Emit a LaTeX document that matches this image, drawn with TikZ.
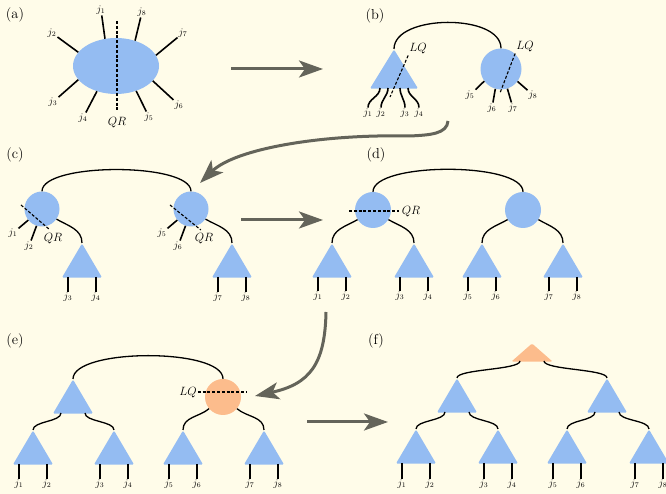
\documentclass[tikz,border=0pt]{standalone}
\usepackage{xcolor}
\usepackage{tikz}
\usetikzlibrary{positioning}
\usetikzlibrary{shapes.geometric}
\usetikzlibrary{calc}
\usetikzlibrary{arrows.meta}

\definecolor{paper}{RGB}{255,252,233}
\definecolor{qblue}{RGB}{148,188,242}
\definecolor{qorange}{RGB}{252,188,140}
\definecolor{flowgray}{RGB}{100,100,90}

\begin{document}
\begin{tikzpicture}[
    x=1pt, y=1pt,
    blob/.style={circle,fill=qblue,minimum size=36pt,inner sep=0pt},
    tri/.style={isosceles triangle,isosceles triangle stretches,shape border rotate=90,
        fill=qblue,minimum width=40pt,minimum height=34pt,inner sep=0pt,
        rounded corners=1.2pt,anchor=apex},
    jlab/.style={inner sep=1pt},
    cutlab/.style={font=\large,inner sep=1pt},
    panel/.style={font=\Large},
    bond/.style={line width=1.3pt},
    leg/.style={line width=1.6pt},
    cut/.style={line width=1.1pt,dash pattern=on 3pt off 1.8pt},
    flow/.style={line width=3pt,draw=flowgray,-{Stealth[length=24pt,width=17pt,inset=6pt]}}
    ]

    \fill[paper] (0,0) rectangle (666,494);
    \useasboundingbox (0,0) rectangle (666,494);

    % (a)
    \node[panel] (pa) at (15,479) {(a)};
    \node[ellipse,fill=qblue,minimum width=86pt,minimum height=56pt,inner sep=0pt] (blobA) at (116,428) {};
    \node[jlab] (ja1) at (101,484) {$j_1$};
    \node[jlab] (ja2) at (52,461) {$j_2$};
    \node[jlab] (ja3) at (53,392) {$j_3$};
    \node[jlab] (ja4) at (83,376) {$j_4$};
    \node[jlab] (ja5) at (149,377) {$j_5$};
    \node[jlab] (ja6) at (179,389) {$j_6$};
    \node[jlab] (ja7) at (183,461) {$j_7$};
    \node[jlab] (ja8) at (142,482) {$j_8$};
    \draw[leg] (ja1) -- (blobA.112);
    \draw[leg] (ja2) -- (blobA.160);
    \draw[leg] (ja3) -- (blobA.200);
    \draw[leg] (ja4) -- (blobA.233);
    \draw[leg] (ja5) -- (blobA.309);
    \draw[leg] (ja6) -- (blobA.338);
    \draw[leg] (ja7) -- (blobA.15);
    \draw[leg] (ja8) -- (blobA.53);
    \coordinate (cutA) at (117,473);
    \node[cutlab] (QRa) at (117,371) {$QR$};
    \draw[cut,shorten >=5pt] (cutA) -- (QRa.north);

    \coordinate (ab1) at (231,425);
    \coordinate (ab2) at (323,425);
    \draw[flow] (ab1) -- (ab2);

    % (b)
    \node[panel] (pb) at (375,478) {(b)};
    \node[tri,minimum width=48pt,minimum height=39pt] (triB) at (394,445) {};
    \node[blob,minimum size=41pt] (circB) at (501,425) {};
    \draw[bond] (triB.apex) .. controls +(0,35) and +(0,35) .. (circB.north);
    \node[jlab] (jb1) at (368,381) {$j_1$};
    \node[jlab] (jb2) at (381,381) {$j_2$};
    \node[jlab] (jb3) at (405,381) {$j_3$};
    \node[jlab] (jb4) at (419,381) {$j_4$};
    \draw[leg] ($(triB.apex)+(-14,-39)$) to[out=-90,in=90] (jb1);
    \draw[leg] ($(triB.apex)+(-6,-39)$) to[out=-90,in=90] (jb2);
    \draw[leg] ($(triB.apex)+(6,-39)$) to[out=-90,in=90] (jb3);
    \draw[leg] ($(triB.apex)+(14,-39)$) to[out=-90,in=90] (jb4);
    \node[jlab] (jb5) at (470,399) {$j_5$};
    \node[jlab] (jb6) at (492,386) {$j_6$};
    \node[jlab] (jb7) at (513,386) {$j_7$};
    \node[jlab] (jb8) at (533,399) {$j_8$};
    \draw[leg] (circB.216) -- (jb5);
    \draw[leg] (circB.254) -- (jb6);
    \draw[leg] (circB.288) -- (jb7);
    \draw[leg] (circB.323) -- (jb8);
    \node[cutlab] (LQb1) at (418,445) {$LQ$};
    \node[cutlab] (LQb2) at (525,447) {$LQ$};
    \coordinate (cb1) at (390,397);
    \coordinate (cb2) at (500,401);
    \draw[cut] (LQb1.south west) -- (cb1);
    \draw[cut] (LQb2.south west) -- (cb2);

    \coordinate (bc1) at (448,373);
    \coordinate (bc2) at (200,311);
    \draw[flow] (bc1) .. controls (447,360) and (430,359) .. (410,358)
        .. controls (320,360) and (235,345) .. (bc2);

    % (c)
    \node[panel] (pc) at (15,339) {(c)};
    \node[blob,minimum size=35pt] (circC1) at (42,285) {};
    \node[blob,minimum size=35pt] (circC2) at (191,285) {};
    \draw[bond] (circC1.north) .. controls +(0,29) and +(0,29) .. (circC2.north);
    \node[tri] (triC1) at (82,251) {};
    \node[tri] (triC2) at (232,251) {};
    \draw[bond] (circC1.-35) to[out=-30,in=90] (triC1.apex);
    \draw[bond] (circC2.-35) to[out=-30,in=90] (triC2.apex);
    \node[jlab] (jc1) at (13,261) {$j_1$};
    \node[jlab] (jc2) at (29,248) {$j_2$};
    \node[jlab] (jc5) at (162,261) {$j_5$};
    \node[jlab] (jc6) at (178,248) {$j_6$};
    \draw[leg] (circC1.219) -- (jc1);
    \draw[leg] (circC1.252) -- (jc2);
    \draw[leg] (circC2.219) -- (jc5);
    \draw[leg] (circC2.252) -- (jc6);
    \node[jlab] (jc3) at (68,197) {$j_3$};
    \node[jlab] (jc4) at (96,197) {$j_4$};
    \node[jlab] (jc7) at (218,197) {$j_7$};
    \node[jlab] (jc8) at (246,197) {$j_8$};
    \draw[leg] ($(triC1.apex)+(-14,-34)$) -- (jc3);
    \draw[leg] ($(triC1.apex)+(14,-34)$) -- (jc4);
    \draw[leg] ($(triC2.apex)+(-14,-34)$) -- (jc7);
    \draw[leg] ($(triC2.apex)+(14,-34)$) -- (jc8);
    \coordinate (cc1) at (21,289);
    \coordinate (cc2) at (170,289);
    \node[cutlab] (QRc1) at (53,255) {$QR$};
    \node[cutlab] (QRc2) at (204,255) {$QR$};
    \draw[cut,shorten >=4pt] (cc1) -- (QRc1.north);
    \draw[cut,shorten >=4pt] (cc2) -- (QRc2.north);

    \coordinate (cd1) at (241,274);
    \coordinate (cd2) at (323,274);
    \draw[flow] (cd1) -- (cd2);

    % (d)
    \node[panel] (pd) at (376,339) {(d)};
    \node[blob] (circD1) at (373,284) {};
    \node[blob] (circD2) at (523,284) {};
    \draw[bond] (circD1.north) .. controls +(0,30) and +(0,30) .. (circD2.north);
    \node[tri] (triD1) at (332,251) {};
    \node[tri] (triD2) at (414,251) {};
    \node[tri] (triD3) at (482,251) {};
    \node[tri] (triD4) at (563,251) {};
    \draw[bond] (circD1.-148) to[out=-150,in=90] (triD1.apex);
    \draw[bond] (circD1.-32) to[out=-30,in=90] (triD2.apex);
    \draw[bond] (circD2.-148) to[out=-150,in=90] (triD3.apex);
    \draw[bond] (circD2.-32) to[out=-30,in=90] (triD4.apex);
    \foreach \t/\a/\b in {1/1/2,2/3/4,3/5/6,4/7/8}{
        \node[jlab] (jd\a) at ($(triD\t.apex)+(-14,-53)$) {$j_{\a}$};
        \node[jlab] (jd\b) at ($(triD\t.apex)+(14,-53)$) {$j_{\b}$};
        \draw[leg] ($(triD\t.apex)+(-14,-34)$) -- (jd\a);
        \draw[leg] ($(triD\t.apex)+(14,-34)$) -- (jd\b);
    }
    \coordinate (cutD) at (349,283);
    \node[cutlab] (QRd) at (411,282) {$QR$};
    \draw[cut,shorten >=2pt] (cutD) -- (cutD -| QRd.west);

    \coordinate (de1) at (326,182);
    \coordinate (de2) at (255,98);
    \draw[flow] (de1) .. controls (325,130) and (310,110) .. (de2);

    % (e)
    \node[panel] (pe) at (15,153) {(e)};
    \node[tri] (triE) at (73,115) {};
    \node[blob,fill=qorange] (circE) at (223,97) {};
    \draw[bond] (triE.apex) .. controls +(0,31) and +(0,31) .. (circE.north);
    \node[tri] (triE1) at (33,64) {};
    \node[tri] (triE2) at (114,64) {};
    \node[tri] (triE3) at (183,64) {};
    \node[tri] (triE4) at (264,64) {};
    \draw[bond] ($(triE.apex)+(-12,-34)$) .. controls +(0,-9) and +(0,9) .. (triE1.apex);
    \draw[bond] ($(triE.apex)+(12,-34)$) .. controls +(0,-9) and +(0,9) .. (triE2.apex);
    \draw[bond] (circE.-140) to[out=-140,in=90] (triE3.apex);
    \draw[bond] (circE.-40) to[out=-40,in=90] (triE4.apex);
    \foreach \t/\a/\b in {1/1/2,2/3/4,3/5/6,4/7/8}{
        \node[jlab] (je\a) at ($(triE\t.apex)+(-14,-54)$) {$j_{\a}$};
        \node[jlab] (je\b) at ($(triE\t.apex)+(14,-54)$) {$j_{\b}$};
        \draw[leg] ($(triE\t.apex)+(-14,-34)$) -- (je\a);
        \draw[leg] ($(triE\t.apex)+(14,-34)$) -- (je\b);
    }
    \coordinate (cutE) at (247,102);
    \node[cutlab] (LQe) at (188,101) {$LQ$};
    \draw[cut] (cutE -| LQe.east) -- (cutE);

    \coordinate (ef1) at (307,72);
    \coordinate (ef2) at (388,72);
    \draw[flow] (ef1) -- (ef2);

    % (f)
    \node[panel] (pf) at (376,153) {(f)};
    \node[tri,fill=qorange,minimum width=41pt,minimum height=18pt] (triF) at (532,151) {};
    \node[tri] (triFL) at (457,116) {};
    \node[tri] (triFR) at (607,116) {};
    \draw[bond] ($(triF.apex)+(-12,-18)$) .. controls +(0,-9) and +(0,9) .. (triFL.apex);
    \draw[bond] ($(triF.apex)+(12,-18)$) .. controls +(0,-9) and +(0,9) .. (triFR.apex);
    \node[tri] (triF1) at (416,65) {};
    \node[tri] (triF2) at (498,65) {};
    \node[tri] (triF3) at (567,65) {};
    \node[tri] (triF4) at (649,65) {};
    \draw[bond] ($(triFL.apex)+(-12,-34)$) .. controls +(0,-9) and +(0,9) .. (triF1.apex);
    \draw[bond] ($(triFL.apex)+(12,-34)$) .. controls +(0,-9) and +(0,9) .. (triF2.apex);
    \draw[bond] ($(triFR.apex)+(-12,-34)$) .. controls +(0,-9) and +(0,9) .. (triF3.apex);
    \draw[bond] ($(triFR.apex)+(12,-34)$) .. controls +(0,-9) and +(0,9) .. (triF4.apex);
    \foreach \t/\a/\b in {1/1/2,2/3/4,3/5/6,4/7/8}{
        \node[jlab] (jf\a) at ($(triF\t.apex)+(-14,-55)$) {$j_{\a}$};
        \node[jlab] (jf\b) at ($(triF\t.apex)+(14,-55)$) {$j_{\b}$};
        \draw[leg] ($(triF\t.apex)+(-14,-34)$) -- (jf\a);
        \draw[leg] ($(triF\t.apex)+(14,-34)$) -- (jf\b);
    }
\end{tikzpicture}
\end{document}
